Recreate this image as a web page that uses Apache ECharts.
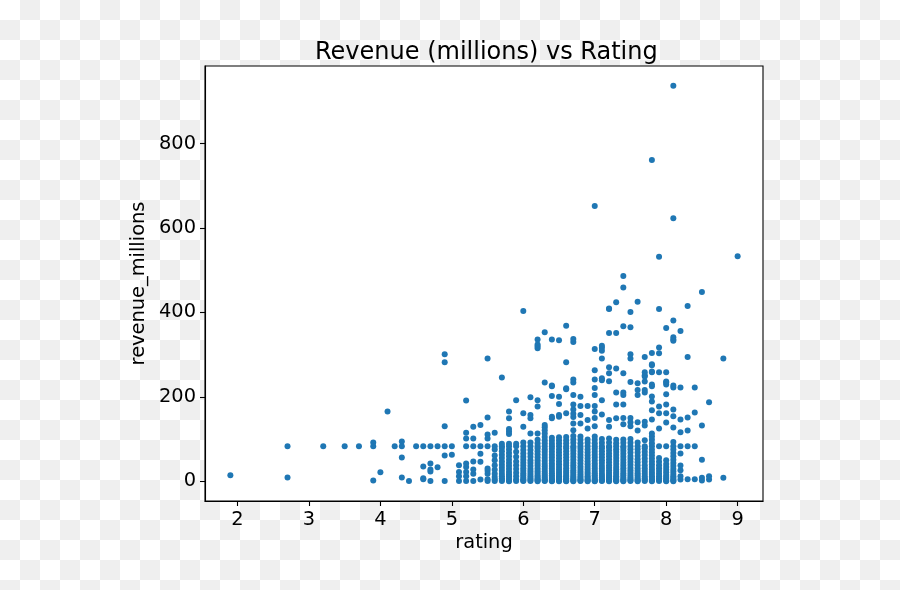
<!DOCTYPE html>
<html>
<head>
<meta charset="utf-8">
<script src="https://cdn.jsdelivr.net/npm/echarts@6/dist/echarts.min.js"></script>
<style>
  html, body { margin: 0; padding: 0; }
  body {
    width: 900px; height: 590px;
    background-color: #fff;
    background-image: conic-gradient(#efefef 25%, #fff 0 50%, #efefef 0 75%, #fff 0);
    background-size: 40px 40px;
  }
  #chart { width: 900px; height: 590px; }
</style>
</head>
<body>
<div id="chart"></div>
<script>
// films rated under 5: [rating, revenue]
const lowRatedPoints = [
  [1.9, 14], [2.7, 83], [2.7, 9], [3.2, 83], [3.5, 83], [3.7, 83],
  [3.9, 92], [3.9, 83], [3.9, 2], [4.0, 21], [4.1, 165], [4.2, 83],
  [4.3, 94], [4.3, 83], [4.3, 56], [4.3, 9], [4.4, 0.5], [4.5, 83],
  [4.6, 83], [4.6, 35], [4.6, 7], [4.6, 5], [4.7, 83], [4.7, 42],
  [4.7, 28], [4.7, 23], [4.7, 0.5], [4.8, 83], [4.8, 33],
  [4.9, 301], [4.9, 282], [4.9, 130], [4.9, 83], [4.9, 61], [4.9, 0.5]
]

const ratings5x = [5.0, 5.1, 5.2, 5.3, 5.4, 5.5, 5.6, 5.7, 5.8, 5.9]
const revenues5x = [
  [63, 83],
  [0.5, 12, 22, 38],
  [0.5, 12, 22, 34, 42, 83, 101, 115, 191],
  [0.5, 18, 28, 47, 83, 101, 129],
  [4, 46, 65, 83, 133],
  [0.5, 5, 18, 25, 30, 83, 101, 111, 151, 291],
  [0.5, 4, 10, 18, 27, 38, 50, 61, 75, 83, 115],
  [0.3, 3, 7, 12, 18, 25, 32, 39, 47, 55, 63, 71, 79, 83, 89, 246],
  [0.2, 2, 6, 11, 16, 22, 29, 36, 43, 51, 59, 67, 75, 83, 89, 112, 118, 124, 149, 165],
  [0.5, 4, 12, 20, 29, 38, 47, 58, 70, 83, 89, 192]
]

const ratings6x = [6.0, 6.1, 6.2, 6.3, 6.4, 6.5, 6.6, 6.7, 6.8, 6.9]
const revenues6x = [
  [0.3, 2, 5, 9, 14, 19, 25, 31, 37, 44, 51, 58, 66, 74, 83, 92, 129, 161, 403],
  [0.4, 3, 7, 12, 17, 23, 29, 36, 43, 50, 58, 66, 74, 83, 92, 113, 149, 157, 199],
  [0.2, 1.5, 4, 7, 11, 15, 20, 25, 31, 37, 43, 50, 57, 64, 71, 78, 83, 90, 98, 113, 177, 192, 315, 320, 324, 336],
  [0.3, 2, 5, 9, 13, 18, 23, 29, 35, 41, 48, 55, 62, 69, 76, 83, 90, 97, 105, 113, 121, 128, 133, 234, 353],
  [0.1, 1, 3, 6, 10, 14, 19, 24, 30, 36, 42, 49, 56, 63, 70, 77, 83, 89, 96, 103, 149, 153, 202, 225, 227, 336],
  [0.2, 1.8, 4.5, 8, 12, 17, 22, 28, 34, 40, 47, 54, 61, 68, 75, 83, 90, 97, 104, 153, 157, 183, 200, 334],
  [0.1, 1.3, 3.5, 7, 11, 15, 20, 25, 31, 37, 43, 50, 57, 64, 71, 78, 83, 90, 97, 105, 161, 218, 220, 282, 368],
  [0.2, 1.5, 4, 7.5, 11, 16, 21, 26, 32, 38, 44, 51, 58, 65, 72, 79, 83, 91, 99, 107, 121, 137, 152, 160, 170, 182, 204, 234, 241, 330, 337],
  [0.3, 2, 5, 9, 13, 18, 23, 29, 35, 42, 49, 56, 63, 70, 77, 83, 90, 98, 106, 137, 157, 178, 200],
  [0.2, 1.5, 4, 8, 12, 17, 22, 28, 34, 40, 47, 54, 61, 68, 75, 83, 91, 99, 125, 145, 178]
]

const ratings7x = [7.0, 7.1, 7.2, 7.3, 7.4, 7.5, 7.6, 7.7, 7.8, 7.9]
const revenues7x = [
  [0.1, 1.2, 3, 6, 10, 14, 19, 24, 30, 36, 42, 49, 56, 63, 70, 77, 83, 90, 98, 106, 130, 150, 165, 178, 204, 221, 241, 263, 313, 652],
  [0.3, 2, 5, 9, 13, 18, 24, 30, 36, 43, 50, 57, 64, 71, 78, 83, 91, 100, 158, 192, 239, 244, 291, 309, 316, 321],
  [0.2, 1.6, 4, 7, 11, 15, 20, 26, 32, 38, 45, 52, 59, 66, 73, 80, 83, 92, 101, 129, 145, 237, 256, 270, 351, 408, 409],
  [0.1, 1.5, 4, 8, 12, 17, 22, 28, 34, 41, 48, 55, 62, 69, 76, 83, 90, 98, 149, 182, 210, 267, 351, 424],
  [0.2, 2, 5, 9, 14, 19, 25, 31, 37, 44, 51, 58, 65, 72, 79, 83, 91, 99, 135, 150, 182, 204, 210, 256, 367, 459, 486],
  [0.3, 2.5, 6, 10, 15, 20, 26, 32, 39, 46, 53, 60, 68, 76, 83, 91, 100, 130, 140, 150, 235, 291, 301, 365, 401],
  [0.2, 1.8, 5, 9, 14, 19, 25, 31, 38, 45, 52, 60, 68, 76, 83, 92, 120, 140, 204, 216, 232, 425],
  [0.4, 3, 7, 12, 18, 24, 31, 38, 46, 54, 62, 70, 78, 83, 97, 132, 141, 210, 216, 236, 248, 251, 258, 294],
  [0.1, 1.5, 4, 8, 12, 17, 22, 28, 34, 40, 47, 54, 61, 68, 75, 83, 90, 98, 106, 113, 146, 168, 189, 201, 225, 229, 258, 260, 275, 277, 304, 761],
  [0.3, 3, 7, 12, 18, 24, 31, 38, 46, 55, 83, 125, 161, 177, 258, 303, 317, 408, 532]
]

const ratings8x = [8.0, 8.1, 8.2, 8.3, 8.4, 8.5, 8.6, 8.8, 9.0]
const revenues8x = [
  [0.2, 2, 6, 10, 15, 21, 27, 34, 41, 50, 83, 139, 161, 182, 206, 229, 234, 236, 258, 363],
  [0.1, 1.5, 4, 8, 12, 17, 23, 29, 36, 43, 51, 59, 67, 75, 83, 93, 127, 154, 170, 222, 227, 333, 336, 341, 381, 623, 937],
  [4, 12, 26, 37, 66, 83, 116, 146, 222, 356],
  [5, 83, 120, 151, 294, 415],
  [5, 83, 163, 222],
  [2, 8, 51, 132, 448],
  [4, 12, 187],
  [8, 291],
  [533]
]

const xTicks = [2, 3, 4, 5, 6, 7, 8, 9]
const yTicks = [0, 200, 400, 600, 800]

// 拼成散点数据
function toPoints(ratings, revenues) {
  let res = []
  for (let i = 0; i < ratings.length; i++) {
    for (let j = 0; j < revenues[i].length; j++) {
      res.push([ratings[i], revenues[i][j]])
    }
  }
  return res
}

let points = lowRatedPoints
  .concat(toPoints(ratings5x, revenues5x))
  .concat(toPoints(ratings6x, revenues6x))
  .concat(toPoints(ratings7x, revenues7x))
  .concat(toPoints(ratings8x, revenues8x))

let myChart = echarts.init(document.getElementById('chart'), null, { renderer: 'canvas' })
let font = 'DejaVu Sans'
let option = {
  backgroundColor: 'transparent',
  animation: false,
  title: {
    text: 'Revenue (millions) vs Rating',
    left: 310,
    top: 36,
    textStyle: { fontFamily: font, fontSize: 24, fontWeight: 'normal', color: '#000' }
  },
  grid: {
    left: 205,
    right: 137,
    top: 66,
    bottom: 89,
    containLabel: false,
    show: true,
    backgroundColor: '#fff',
    borderColor: '#000',
    borderWidth: 1.1
  },
  xAxis: {
    type: 'value',
    min: 1.545,
    max: 9.355,
    name: 'rating',
    nameLocation: 'middle',
    nameGap: 30,
    nameTextStyle: { fontFamily: font, fontSize: 19.4, color: '#000' },
    axisLine: { show: true, onZero: false, lineStyle: { color: '#000', width: 1.1 } },
    axisTick: { show: true, length: 5, lineStyle: { color: '#000', width: 1.1 }, customValues: xTicks },
    axisLabel: { fontFamily: font, fontSize: 19.4, color: '#000', margin: 9, customValues: xTicks },
    splitLine: { show: false }
  },
  yAxis: {
    type: 'value',
    min: -46.8,
    max: 983.5,
    name: 'revenue_millions',
    nameLocation: 'middle',
    nameGap: 46,
    nameTextStyle: { fontFamily: font, fontSize: 19.4, color: '#000' },
    axisLine: { show: true, onZero: false, lineStyle: { color: '#000', width: 1.1 } },
    axisTick: { show: true, length: 5, lineStyle: { color: '#000', width: 1.1 }, customValues: yTicks },
    axisLabel: { fontFamily: font, fontSize: 19.4, color: '#000', margin: 9, customValues: yTicks },
    splitLine: { show: false }
  },
  series: [
    {
      type: 'scatter',
      symbol: 'circle',
      symbolSize: 6,
      itemStyle: { color: '#1f77b4', opacity: 1 },
      data: points
    }
  ]
}
myChart.setOption(option)
</script>
</body>
</html>
